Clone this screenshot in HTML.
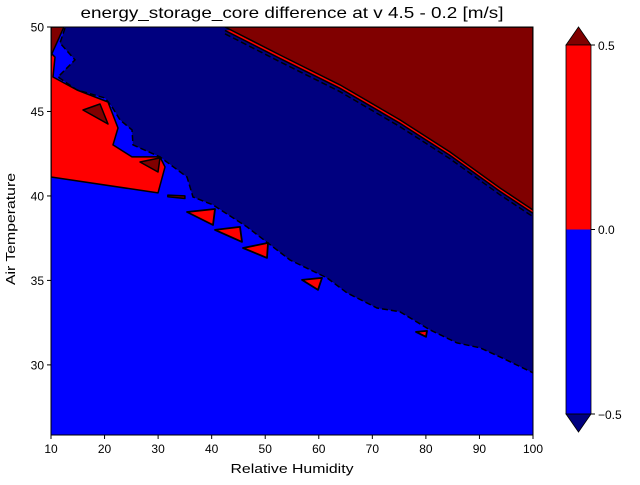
<!DOCTYPE html>
<html><head><meta charset="utf-8"><style>
body{margin:0;background:#fff}
svg text{font-family:"Liberation Sans","DejaVu Sans",sans-serif;fill:#000}
</style></head><body>
<svg id="chart" width="640" height="480" viewBox="0 0 640 480" xmlns="http://www.w3.org/2000/svg">
<defs><clipPath id="clip"><rect x="51" y="27" width="482" height="408"/></clipPath></defs>
<rect x="0" y="0" width="640" height="480" fill="#fff"/>
<text x="292" y="18" font-size="16" text-anchor="middle" textLength="423" lengthAdjust="spacingAndGlyphs">energy_storage_core difference at v 4.5 - 0.2 [m/s]</text>
<g id="plot" clip-path="url(#clip)"></g>
<rect x="51" y="27" width="482" height="408" fill="none" stroke="#000" stroke-width="1"/>
<g id="axes"></g>
<g>
<polygon points="566,45 591,45 578.5,27" fill="#800000" stroke="#000" stroke-width="0.8"/>
<rect x="566" y="45" width="25" height="184.5" fill="#ff0000"/>
<rect x="566" y="229.5" width="25" height="184.5" fill="#0000ff"/>
<polygon points="566,414 591,414 578.5,432" fill="#00007f" stroke="#000" stroke-width="0.8"/>
<rect x="566" y="45" width="25" height="369" fill="none" stroke="#000" stroke-width="0.8"/>
<line x1="591" y1="45" x2="595" y2="45" stroke="#000"/><text x="598" y="50" font-size="12">0.5</text>
<line x1="591" y1="229.5" x2="595" y2="229.5" stroke="#000"/><text x="598" y="234" font-size="12">0.0</text>
<line x1="591" y1="414" x2="595" y2="414" stroke="#000"/><text x="598" y="419" font-size="12">−0.5</text>
</g>
<text x="292" y="473" font-size="13" text-anchor="middle" textLength="123" lengthAdjust="spacingAndGlyphs">Relative Humidity</text>
<text x="15" y="229" font-size="13" text-anchor="middle" textLength="112" lengthAdjust="spacingAndGlyphs" transform="rotate(-90 15 229)">Air Temperature</text>
</svg>
<script>
const xTicks=[10,20,30,40,50,60,70,80,90,100];
const yTicks=[30,35,40,45,50];
const navyBoundary=[[12.61,49.94],[11.68,49.05],[14.48,48.05],[11.31,47.04],[14.85,46.27],[20.08,45.8],[21.39,45.27],[22.88,44.5],[25.12,43.91],[25.31,43.02],[30.35,42.31],[35.39,41.12],[36.51,39.94],[40.25,39.47],[46.6,38.17],[54.62,36.21],[61.53,35.15],[65.27,34.26],[70.87,33.37],[75.16,33.14],[80.76,32.07],[85.8,31.3],[90.1,31.01],[93.83,30.47],[100,29.53]];
const darkRedBoundary=[[42.49,50],[52.76,48.34],[63.96,46.57],[75.16,44.5],[84.5,42.6],[93.83,40.47],[100,39.17]];
const redLeft=[[10,41.12],[29.98,40.18],[31.29,41.72],[30.35,42.31],[25.12,42.31],[21.58,43.02],[22.51,44.02],[20.64,45.56],[14.85,46.27],[10.37,47.04],[10.75,48.22],[10,48.46]];
const darkRedCorner=[[10,50],[12.4,50],[10,48.3]];
const darkRedIslands=[[[15.97,45.09],[19.15,45.44],[20.64,44.26]],[[26.62,42.01],[30.35,42.25],[29.98,41.42]],[[31.8,40.05],[35,40.0],[35,39.85],[31.8,39.95]]];
const redIslands=[[[35.39,39.05],[40.62,39.23],[40.25,38.28]],[[40.62,37.99],[45.29,38.17],[45.66,37.28]],[[45.85,36.92],[50.52,37.22],[50.33,36.33]],[[56.87,35.03],[60.61,35.15],[59.85,34.44]],[[78.15,31.95],[80.2,32.01],[80.02,31.66]]];
const X0=51,X1=533,Y0=435,Y1=27,xmin=10,xmax=100,ymin=25.85,ymax=50;
function sx(v){return X0+(v-xmin)/(xmax-xmin)*(X1-X0);}
function sy(v){return Y0-(v-ymin)/(ymax-ymin)*(Y0-Y1);}
const NS='http://www.w3.org/2000/svg';
const plot=document.getElementById('plot'),axes=document.getElementById('axes');
function pts(a){return a.map(p=>sx(p[0]).toFixed(1)+','+sy(p[1]).toFixed(1)).join(' ');}
function poly(a,fill,name,stroke,sw){const e=document.createElementNS(NS,'polygon');e.setAttribute('points',pts(a));e.setAttribute('fill',fill);if(stroke){e.setAttribute('stroke',stroke);e.setAttribute('stroke-width',sw);e.setAttribute('stroke-linejoin','round');}


plot.appendChild(e);return e;}
function line(a,name,dash,sw,color){const e=document.createElementNS(NS,'polyline');e.setAttribute('points',pts(a));e.setAttribute('fill','none');e.setAttribute('stroke',color||'#000');e.setAttribute('stroke-width',sw);if(dash)e.setAttribute('stroke-dasharray',dash);


plot.appendChild(e);}
poly([[xmin,ymin],[xmax,ymin],[xmax,ymax],[xmin,ymax]],'#0000ff','blue-region');
poly(navyBoundary.concat([[100,50],[12.61,50]]),'#00007f','navy-region');
line(navyBoundary,'contour-minus-0.5','6,3',1.5);
const shifted=darkRedBoundary.map(p=>[p[0],p[1]-0.2]);
poly(shifted.concat([[100,50]]),'#ff0000','red-band');
line(darkRedBoundary.map(p=>[p[0],p[1]-0.4]),'contour-minus-0.5-upper','6,3',1.5);
line(shifted,'contour-0-upper',null,1.5);
poly(darkRedBoundary.concat([[100,50]]),'#800000','darkred-region','#000',1.5);
poly(redLeft,'#ff0000','red-region-left','#000',1.5);
poly(darkRedCorner,'#800000','darkred-corner','#000',1.5);
darkRedIslands.forEach((a,i)=>poly(a,'#800000','darkred-island-'+i,'#000',1.5));
redIslands.forEach((a,i)=>poly(a,'#ff0000','red-island-'+i,'#000',1.8));
xTicks.forEach(v=>{const l=document.createElementNS(NS,'line');l.setAttribute('x1',sx(v));l.setAttribute('x2',sx(v));l.setAttribute('y1',435);l.setAttribute('y2',439);l.setAttribute('stroke','#000');


axes.appendChild(l);const t=document.createElementNS(NS,'text');t.setAttribute('x',sx(v));t.setAttribute('y',453);t.setAttribute('font-size','12');t.setAttribute('text-anchor','middle');t.textContent=v;


axes.appendChild(t);});
yTicks.forEach(v=>{const l=document.createElementNS(NS,'line');l.setAttribute('x1',47);l.setAttribute('x2',51);l.setAttribute('y1',sy(v));l.setAttribute('y2',sy(v));l.setAttribute('stroke','#000');


axes.appendChild(l);const t=document.createElementNS(NS,'text');t.setAttribute('x',44);t.setAttribute('y',sy(v)+4.5);t.setAttribute('font-size','12');t.setAttribute('text-anchor','end');t.textContent=v;


axes.appendChild(t);});
</script>
</body></html>
